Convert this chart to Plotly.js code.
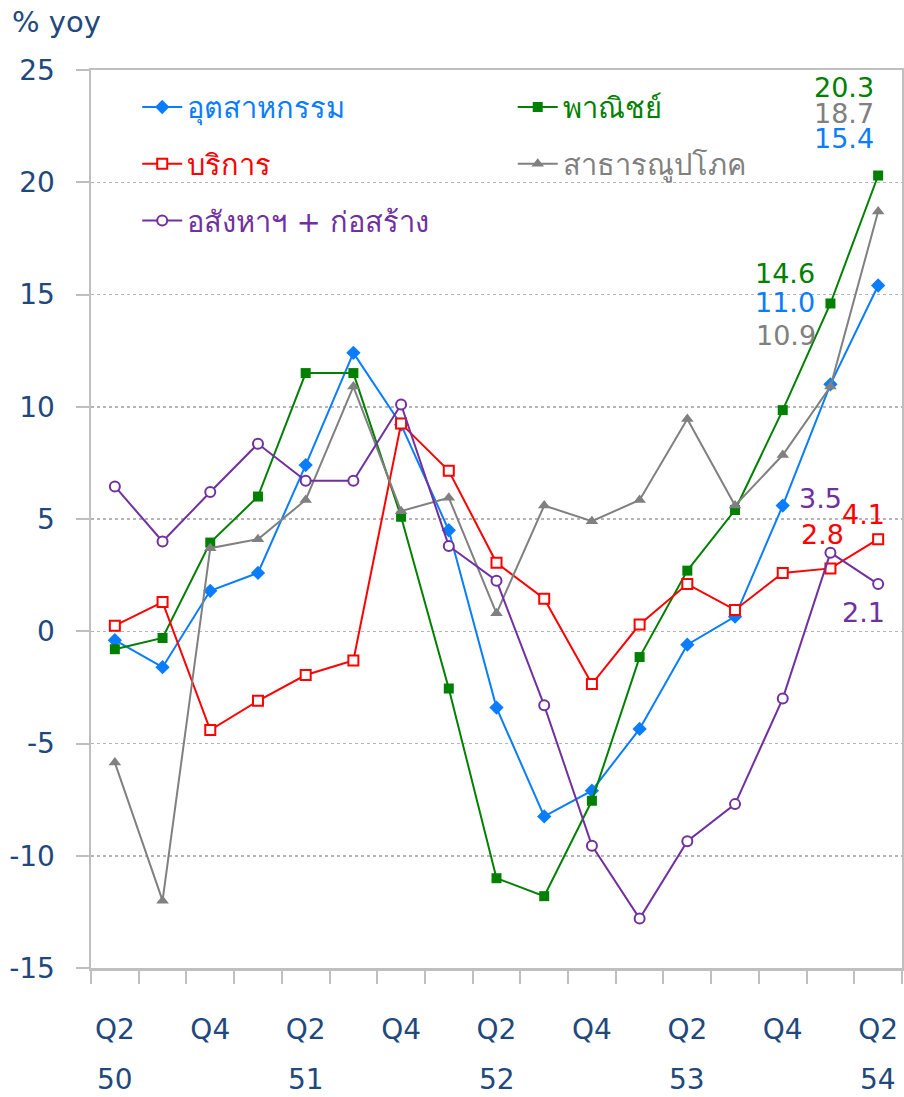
<!DOCTYPE html>
<html><head><meta charset="utf-8">
<script src="https://cdn.plot.ly/plotly-3.0.1.min.js"></script>
<style>html,body{margin:0;padding:0;background:#fff;} #chart{width:904px;height:1097px;}</style>
</head><body><div id="chart"></div>
<script>
// ---- data ----
const quarters = ['Q2','Q3','Q4','Q1','Q2','Q3','Q4','Q1','Q2','Q3','Q4','Q1','Q2','Q3','Q4','Q1','Q2'];
const years    = ['50','50','50','51','51','51','51','52','52','52','52','53','53','53','53','54','54'];
const industry   = [-0.4, -1.6, 1.8, 2.6, 7.4, 12.4, 9.2, 4.5, -3.4, -8.25, -7.1, -4.35, -0.6, 0.65, 5.6, 11.0, 15.4];
const commerce   = [-0.8, -0.3, 3.95, 6.0, 11.5, 11.5, 5.1, -2.55, -11.0, -11.8, -7.55, -1.15, 2.7, 5.4, 9.85, 14.6, 20.3];
const services   = [0.25, 1.3, -4.4, -3.1, -1.95, -1.3, 9.25, 7.15, 3.05, 1.45, -2.35, 0.3, 2.1, 0.95, 2.6, 2.8, 4.1];
const utilities  = [-5.85, -12.0, 3.7, 4.1, 5.85, 10.9, 5.35, 5.95, 0.8, 5.6, 4.9, 5.85, 9.45, 5.6, 7.85, 10.9, 18.7];
const realestate = [6.45, 4.0, 6.2, 8.35, 6.7, 6.7, 10.1, 3.8, 2.25, -3.3, -9.55, -12.8, -9.35, -7.7, -3.0, 3.5, 2.1];
const seriesNames = ['อุตสาหกรรม','พาณิชย์','บริการ','สาธารณูปโภค','อสังหาฯ + ก่อสร้าง'];
const yTickValues = [-15, -10, -5, 0, 5, 10, 15, 20, 25];
const yTitle = '% yoy';

// ---- style ----
const seriesValues = [industry, commerce, services, utilities, realestate];
const colors = ['#0A7DFF','#008000','#FF0000','#808080','#7030A0'];
const symbols = ['diamond','square','square-open','triangle-up','circle-open'];
const msizes = [11, 10, 10, 11, 10];
const legendOf = ['legend','legend2','legend','legend2','legend'];
const navy = '#1F497D';
const FONT = 'DejaVu Sans, Noto Sans, sans-serif';
const gridGray = '#BFBFBF';

const xIdx = quarters.map((_, i) => i);

const traces = seriesValues.map((vals, k) => {
  const open = symbols[k].endsWith('-open');
  return {
    type: 'scatter', mode: 'lines+markers',
    x: xIdx, y: vals,
    name: '<span style="color:' + colors[k] + '">' + seriesNames[k] + '</span>',
    legend: legendOf[k], legendgroup: 'g' + k,
    line: {color: colors[k], width: 2},
    marker: {symbol: open ? symbols[k].replace('-open', '') : symbols[k], size: msizes[k],
             color: open ? '#FFFFFF' : colors[k],
             line: {color: colors[k], width: open ? 2 : 0}},
    hoverinfo: 'skip'
  };
});

// value labels: [series, point index, x offset px, y offset px]
const valueLabels = [
  [1, 16, -34, 88], [3, 16, -34, 98], [0, 16, -34, 147],
  [1, 15, -45, 30], [0, 15, -45, 82], [3, 15, -44, 51],
  [4, 15, -10, 54], [2, 16, -15, 25], [2, 15, -8, 34], [4, 16, -15, -28]
];
const annotations = valueLabels.map(([s, i, dx, dy]) => ({
  x: i, y: seriesValues[s][i], xref: 'x', yref: 'y',
  text: seriesValues[s][i].toFixed(1), showarrow: false,
  xanchor: 'center', yanchor: 'middle', xshift: dx, yshift: dy,
  font: {family: FONT, size: 27, color: colors[s]}
}));
// year labels under Q2 ticks
quarters.forEach((q, i) => {
  if (q === 'Q2') annotations.push({
    x: i, y: -0.1247, xref: 'x', yref: 'paper', text: years[i], showarrow: false,
    xanchor: 'center', yanchor: 'middle', font: {family: FONT, size: 28, color: navy}
  });
});
annotations.push({
  x: -0.1, y: 1.0535, xref: 'paper', yref: 'paper', text: yTitle, showarrow: false,
  xanchor: 'left', yanchor: 'middle', font: {family: FONT, size: 29, color: navy}
});

const majorIdx = xIdx.filter(i => i % 2 === 0);
const boundaries = xIdx.map(i => i - 0.5).concat([quarters.length - 0.5]);

const legendCommon = {
  orientation: 'v', xanchor: 'left', yanchor: 'top', bgcolor: 'rgba(0,0,0,0)',
  font: {family: FONT, size: 29, color: navy}, traceorder: 'grouped', tracegroupgap: 16,
  itemwidth: 40
};

const layout = {
  width: 904, height: 1097,
  margin: {l: 91, r: 2, t: 70, b: 129},
  paper_bgcolor: '#FFFFFF', plot_bgcolor: '#FFFFFF',
  showlegend: true,
  legend: Object.assign({}, legendCommon, {x: 0.057, y: 0.987}),
  legend2: Object.assign({}, legendCommon, {x: 0.52, y: 0.987}),
  xaxis: {
    range: [-0.5, quarters.length - 0.5], tickmode: 'array',
    tickvals: majorIdx, ticktext: majorIdx.map(i => quarters[i]),
    ticks: '', ticklabelstandoff: 35,
    tickfont: {family: FONT, size: 28, color: navy},
    minor: {tickmode: 'array', tickvals: boundaries, ticks: 'outside', ticklen: 13, tickwidth: 2, tickcolor: gridGray, showgrid: false},
    showline: true, linecolor: gridGray, linewidth: 2.5, mirror: true,
    showgrid: false, zeroline: false, fixedrange: true
  },
  yaxis: {
    range: [-15, 25], tickmode: 'array',
    tickvals: yTickValues, ticktext: yTickValues.map(v => String(v)),
    ticks: 'outside', ticklen: 13, tickwidth: 2, tickcolor: gridGray,
    ticklabelstandoff: 15,
    tickfont: {family: FONT, size: 28, color: navy},
    showline: true, linecolor: gridGray, linewidth: 2.5, mirror: true,
    showgrid: true, gridcolor: '#B5B5B5', gridwidth: 1.5, griddash: 'dot',
    zeroline: false, fixedrange: true
  },
  annotations: annotations
};

Plotly.newPlot('chart', traces, layout, {displayModeBar: false, staticPlot: true});
</script></body></html>
